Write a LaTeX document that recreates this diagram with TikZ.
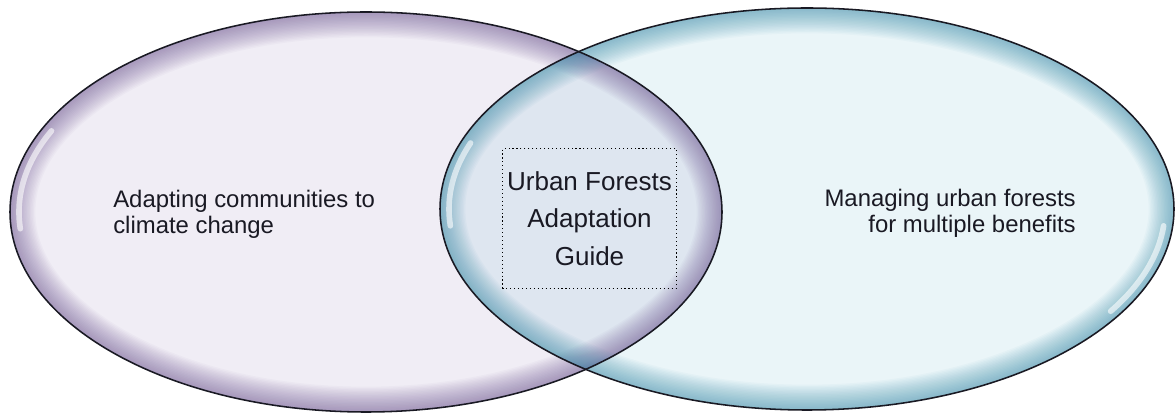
\documentclass[tikz,border=0pt]{standalone}
\usepackage{fontspec}
\setmainfont{Liberation Sans}
\definecolor{lavfill}{RGB}{240, 237, 245}
\definecolor{lavrim}{RGB}{100, 75, 140}
\definecolor{aquafill}{RGB}{234, 245, 248}
\definecolor{aquarim}{RGB}{45, 135, 165}
\definecolor{lensfill}{RGB}{222, 230, 240}
\definecolor{inkdark}{RGB}{25, 25, 35}
\usetikzlibrary{positioning}

\def\leftoval{(366,201) ellipse [x radius=356, y radius=200]}
\def\rightoval{(807,204) ellipse [x radius=367, y radius=201]}

\tikzset{
  outline/.style={draw=inkdark, line width=1.1pt},
  shine/.style={white, line width=4pt, opacity=0.6, line cap=round},
  label/.style={font=\fontsize{17}{18.5}\selectfont, text=inkdark, inner sep=0pt}
}

\begin{document}
\begin{tikzpicture}[x=0.025cm, y=0.025cm]
  \useasboundingbox (0,0) rectangle (1176,413);
  \fill[white] (0,0) rectangle (1176,413);

  % Fills
  \fill[lavfill] \leftoval;
  \fill[aquafill] \rightoval;
  \begin{scope}
    \clip \leftoval;
    \fill[lensfill] \rightoval;
  \end{scope}

  % Rims
  \begin{scope}
    \clip \leftoval;
    \foreach \i in {1,...,18} {
      \pgfmathsetmacro\w{2*\i}
      \draw[lavrim, line width=\w pt, opacity=0.035] \leftoval;
    }
  \end{scope}
  \begin{scope}
    \clip \rightoval;
    \foreach \i in {1,...,18} {
      \pgfmathsetmacro\w{2*\i}
      \draw[aquarim, line width=\w pt, opacity=0.035] \rightoval;
    }
  \end{scope}

  % Highlights
  \draw[shine] (366,201) ++(155:347 and 192) arc [start angle=155, end angle=185, x radius=347, y radius=192];
  \draw[shine] (807,204) ++(-32:358 and 193) arc [start angle=-32, end angle=-5, x radius=358, y radius=193];
  \draw[shine] (807,204) ++(160:358 and 193) arc [start angle=160, end angle=185, x radius=358, y radius=193];

  % Outlines
  \draw[outline] \leftoval;
  \draw[outline] \rightoval;

  % Labels
  \node[label, align=left, anchor=west] (adapt) at (113,199) {Adapting communities to\\climate change};
  \node[label, align=right, anchor=east] (manage) at (1076,200) {Managing urban forests\\for multiple benefits};
  \node[draw=black, dotted, line width=0.8pt, minimum width=120pt, minimum height=99pt, align=center, text=inkdark,
        font=\fontsize{18.5}{26.5}\selectfont] (guide) at (589.5,194.5) {Urban Forests\\Adaptation\\Guide};
\end{tikzpicture}
\end{document}
